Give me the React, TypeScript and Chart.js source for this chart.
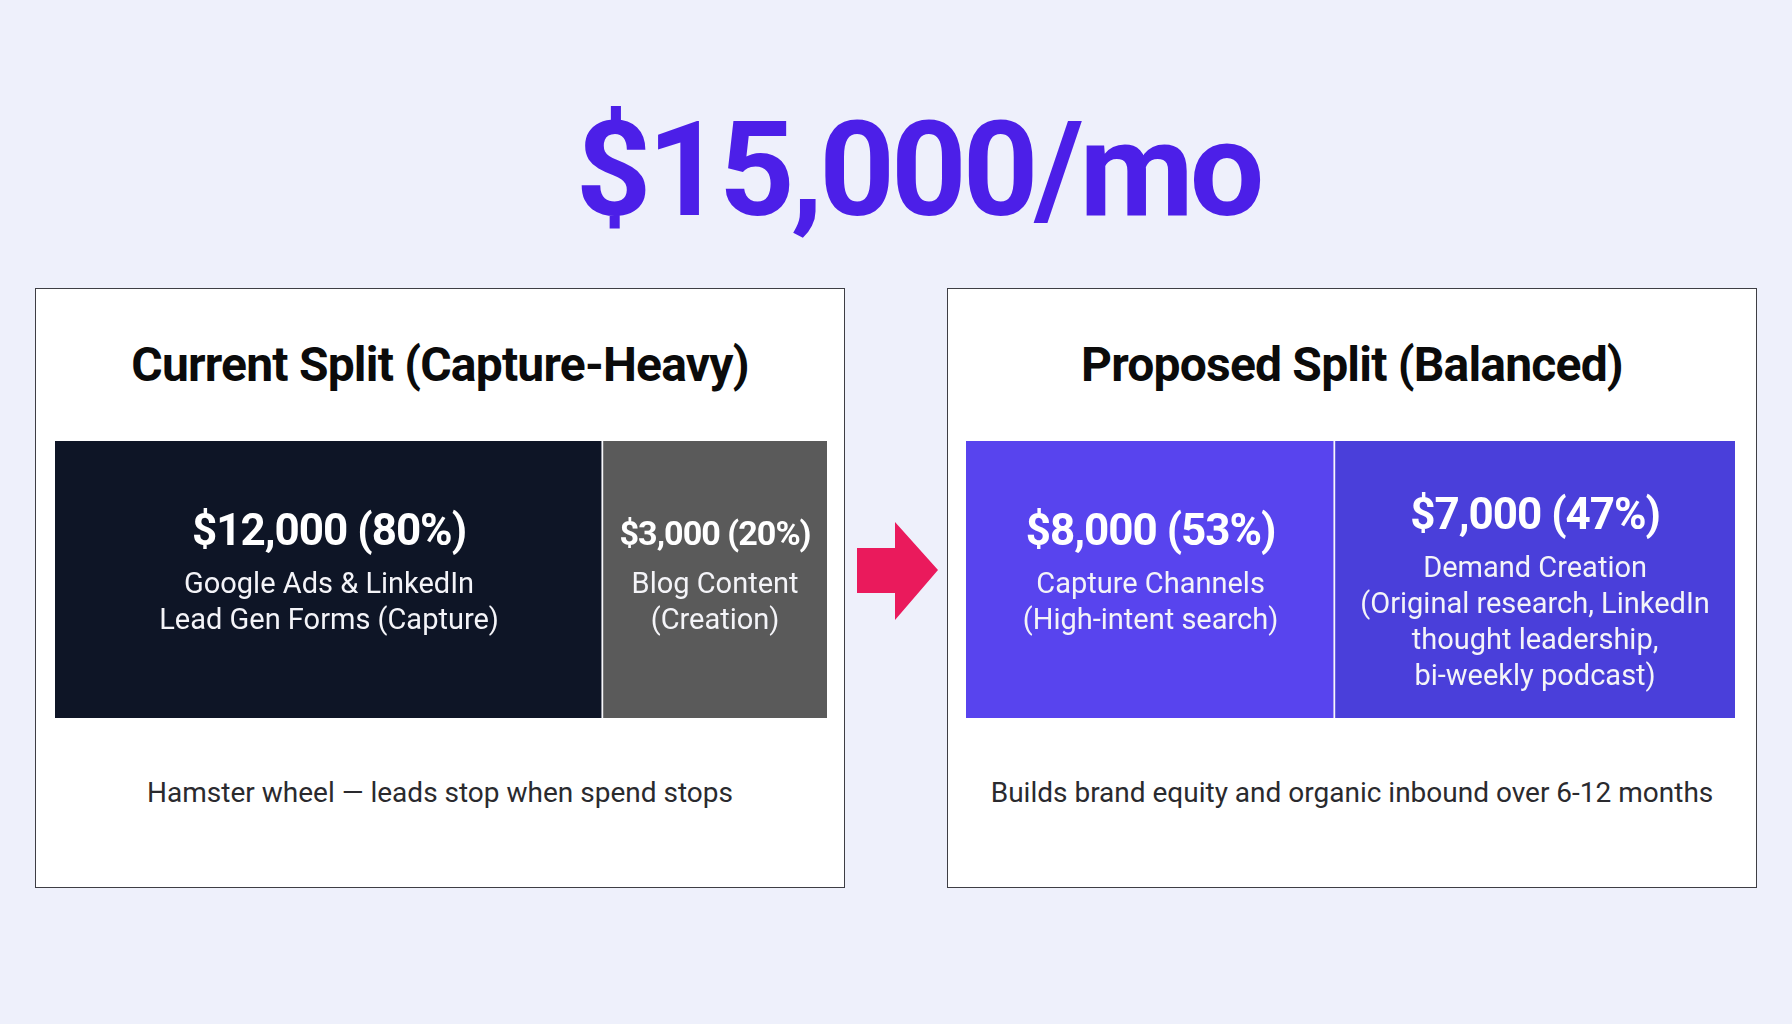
import React, { useEffect, useRef } from "react";
import { Chart, registerables } from "chart.js";

Chart.register(...registerables);

// ---------- data ----------
const headline = "$15,000/mo";

const currentTitle = "Current Split (Capture-Heavy)";
const currentAmounts = [12000, 3000];
const currentPercents = [80, 20];
const currentSubLines = [
  ["Google Ads & LinkedIn", "Lead Gen Forms (Capture)"],
  ["Blog Content", "(Creation)"],
];
// segment lengths as they are drawn in the reference (% of the bar)
const currentBarValues = [71, 29];
const currentCaption = "Hamster wheel \u2014 leads stop when spend stops";

const proposedTitle = "Proposed Split (Balanced)";
const proposedAmounts = [8000, 7000];
const proposedPercents = [53, 47];
const proposedSubLines = [
  ["Capture Channels", "(High-intent search)"],
  ["Demand Creation", "(Original research, LinkedIn", "thought leadership,", "bi-weekly podcast)"],
];
const proposedBarValues = [48, 52];
const proposedCaption = "Builds brand equity and organic inbound over 6-12 months";

const currentColors = ["#0E1526", "#5A5A5A"];
const proposedColors = ["#5844EE", "#4A3FDA"];

const FONT = "Roboto, 'Open Sans', Arial, sans-serif";

type BarProps = {
  values: number[];
  amounts: number[];
  percents: number[];
  subLines: string[][];
  colors: string[];
  width: number;
  height: number;
};

function SplitBar({ values, amounts, percents, subLines, colors, width, height }: BarProps) {
  const ref = useRef<HTMLCanvasElement | null>(null);
  useEffect(() => {
    if (!ref.current) return;
    const labelPlugin = {
      id: "segmentLabels",
      afterDatasetsDraw(chart: any) {
        const ctx = chart.ctx as any;
        const area = chart.chartArea;
        chart.data.datasets.forEach((_ds: any, i: number) => {
          const el = chart.getDatasetMeta(i).data[0];
          if (!el) return;
          const p = el.getProps(["x", "base"], true);
          const left = Math.min(p.x, p.base);
          const right = Math.max(p.x, p.base);
          const cx = (left + right) / 2;
          const w = right - left;
          const head = "$" + amounts[i].toLocaleString("en-US") + " (" + percents[i] + "%)";
          let size = 44;
          ctx.save();
          ctx.letterSpacing = "-1px";
          ctx.font = `700 ${size}px ${FONT}`;
          const maxW = w - 30;
          const tw = ctx.measureText(head).width;
          if (tw > maxW) size = (size * maxW) / tw;
          const lines = subLines[i];
          const gap1 = 48;
          const gapN = 36;
          const headBase = area.top + 112 - 8 * (lines.length - 1);
          ctx.fillStyle = "#FFFFFF";
          ctx.textAlign = "center";
          ctx.textBaseline = "alphabetic";
          ctx.font = `700 ${size}px ${FONT}`;
          ctx.fillText(head, cx, headBase);
          ctx.letterSpacing = "0px";
          ctx.font = `400 29px ${FONT}`;
          ctx.fillStyle = "#F4F4F8";
          lines.forEach((ln, j) => {
            ctx.fillText(ln, cx, headBase + gap1 + gapN * j);
          });
          ctx.restore();
        });
      },
    };
    const total = values.reduce((a, b) => a + b, 0);
    const chart = new Chart(ref.current, {
      type: "bar",
      data: {
        labels: ["split"],
        datasets: values.map((v, i) => ({
          label: "segment " + (i + 1),
          data: [v],
          backgroundColor: colors[i],
          borderColor: "#F7F7FB",
          borderWidth: i < values.length - 1 ? { top: 0, right: 2, bottom: 0, left: 0 } : 0,
          borderSkipped: false,
          barPercentage: 1,
          categoryPercentage: 1,
        })),
      },
      options: {
        indexAxis: "y",
        responsive: false,
        animation: false,
        layout: { padding: 0 },
        scales: {
          x: { stacked: true, display: false, min: 0, max: total },
          y: { stacked: true, display: false },
        },
        plugins: {
          legend: { display: false },
          tooltip: { enabled: false },
        },
      },
      plugins: [labelPlugin],
    } as any);
    return () => chart.destroy();
  }, []);
  return <canvas ref={ref} width={width} height={height} style={{ width, height, display: "block" }} />;
}

const panelStyle = (left: number): React.CSSProperties => ({
  position: "absolute",
  left,
  top: 288,
  width: 810,
  height: 600,
  boxSizing: "border-box",
  background: "#FFFFFF",
  border: "1.5px solid #3E3E44",
});

const headingStyle: React.CSSProperties = {
  position: "absolute",
  left: 0,
  right: 0,
  top: 52,
  textAlign: "center",
  fontFamily: FONT,
  fontWeight: 700,
  fontSize: 48,
  lineHeight: "48px",
  letterSpacing: -0.8,
  color: "#0B0B0B",
  whiteSpace: "nowrap",
};

const captionStyle: React.CSSProperties = {
  position: "absolute",
  left: 0,
  right: 0,
  top: 490,
  textAlign: "center",
  fontFamily: FONT,
  fontWeight: 400,
  fontSize: 28,
  lineHeight: "28px",
  color: "#2A2A2E",
  whiteSpace: "nowrap",
};

export default function App() {
  return (
    <div
      style={{
        position: "absolute",
        left: 0,
        top: 0,
        width: 1792,
        height: 1024,
        background: "#EEF0FB",
        overflow: "hidden",
        fontFamily: FONT,
      }}
    >
      <div
        style={{
          position: "absolute",
          left: 918,
          top: 104,
          transform: "translateX(-50%)",
          fontFamily: FONT,
          fontWeight: 700,
          fontSize: 132,
          lineHeight: "132px",
          letterSpacing: -4,
          color: "#4C1FE8",
          whiteSpace: "nowrap",
        }}
      >
        {headline}
      </div>

      <div style={panelStyle(35)}>
        <div style={headingStyle}>{currentTitle}</div>
        <div style={{ position: "absolute", left: 19, top: 152 }}>
          <SplitBar
            values={currentBarValues}
            amounts={currentAmounts}
            percents={currentPercents}
            subLines={currentSubLines}
            colors={currentColors}
            width={772}
            height={277}
          />
        </div>
        <div style={captionStyle}>{currentCaption}</div>
      </div>

      <svg
        style={{ position: "absolute", left: 0, top: 0 }}
        width={1792}
        height={1024}
        viewBox="0 0 1792 1024"
      >
        <polygon
          points="857,548 895,548 895,522 938,570 895,620 895,593 857,593"
          fill="#EA1A5C"
        />
      </svg>

      <div style={panelStyle(947)}>
        <div style={headingStyle}>{proposedTitle}</div>
        <div style={{ position: "absolute", left: 18, top: 152 }}>
          <SplitBar
            values={proposedBarValues}
            amounts={proposedAmounts}
            percents={proposedPercents}
            subLines={proposedSubLines}
            colors={proposedColors}
            width={769}
            height={277}
          />
        </div>
        <div style={captionStyle}>{proposedCaption}</div>
      </div>
    </div>
  );
}
